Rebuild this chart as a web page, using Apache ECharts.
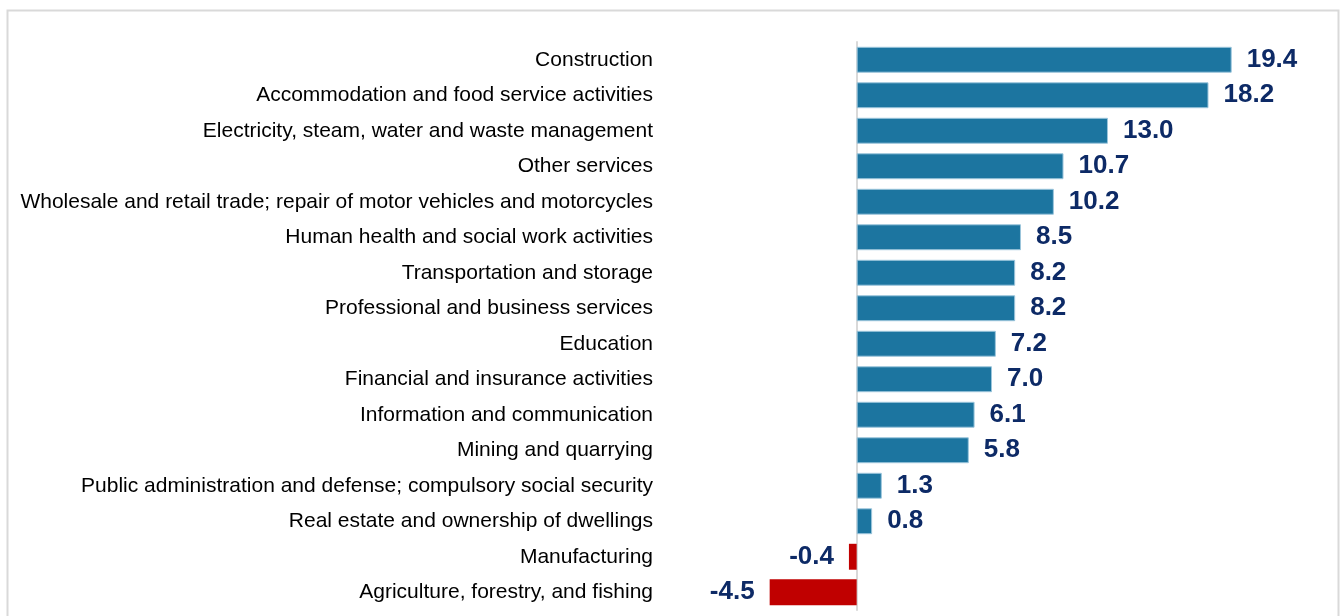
<!DOCTYPE html>
<html>
<head>
<meta charset="utf-8">
<script src="https://cdn.jsdelivr.net/npm/echarts@6/dist/echarts.min.js"></script>
<style>
  html, body { margin: 0; padding: 0; background: #fff; }
  #chart { width: 1340px; height: 616px; }
</style>
</head>
<body>
<div id="chart"></div>
<script>
// top to bottom, as in the picture
const sectors = [
  'Construction',
  'Accommodation and food service activities',
  'Electricity, steam, water and waste management',
  'Other services',
  'Wholesale and retail trade; repair of motor vehicles and motorcycles',
  'Human health and social work activities',
  'Transportation and storage',
  'Professional and business services',
  'Education',
  'Financial and insurance activities',
  'Information and communication',
  'Mining and quarrying',
  'Public administration and defense; compulsory social security',
  'Real estate and ownership of dwellings',
  'Manufacturing',
  'Agriculture, forestry, and fishing'
];
const growth = [19.4, 18.2, 13.0, 10.7, 10.2, 8.5, 8.2, 8.2, 7.2, 7.0, 6.1, 5.8, 1.3, 0.8, -0.4, -4.5];

const BLUE = '#1c75a0';
const RED = '#c00000';
const NAVY = '#0d2a66';

const chart = echarts.init(document.getElementById('chart'));

const barData = growth.map((v) => ({
  value: v,
  itemStyle: v < 0
    ? { color: RED, borderWidth: 0 }
    : { color: BLUE, borderColor: '#9cc6dc', borderWidth: 1 },
  label: { position: v < 0 ? 'left' : 'right' }
}));

chart.setOption({
  animation: false,
  graphic: [{
    type: 'rect',
    shape: { x: 7.5, y: 10.5, width: 1331, height: 700 },
    style: { fill: 'none', stroke: '#d9d9d9', lineWidth: 2 },
    silent: true
  }],
  grid: { left: 760, right: 96.7, top: 42, bottom: 6, outerBoundsMode: 'none', containLabel: false },
  xAxis: {
    type: 'value',
    min: -5,
    max: 20,
    show: false
  },
  yAxis: {
    type: 'category',
    data: sectors,
    inverse: true,
    axisTick: { show: false },
    axisLine: { onZero: true, lineStyle: { color: '#d9d9d9', width: 2 } },
    axisLabel: {
      margin: 107,
      color: '#000',
      fontFamily: 'Liberation Sans, Arial, sans-serif',
      fontSize: 21
    }
  },
  series: [{
    type: 'bar',
    data: barData,
    barCategoryGap: '27%',
    label: {
      show: true,
      distance: 15,
      formatter: (p) => p.value.toFixed(1),
      color: NAVY,
      fontFamily: 'Liberation Sans, Arial, sans-serif',
      fontWeight: 'bold',
      fontSize: 26
    }
  }]
});
</script>
</body>
</html>
